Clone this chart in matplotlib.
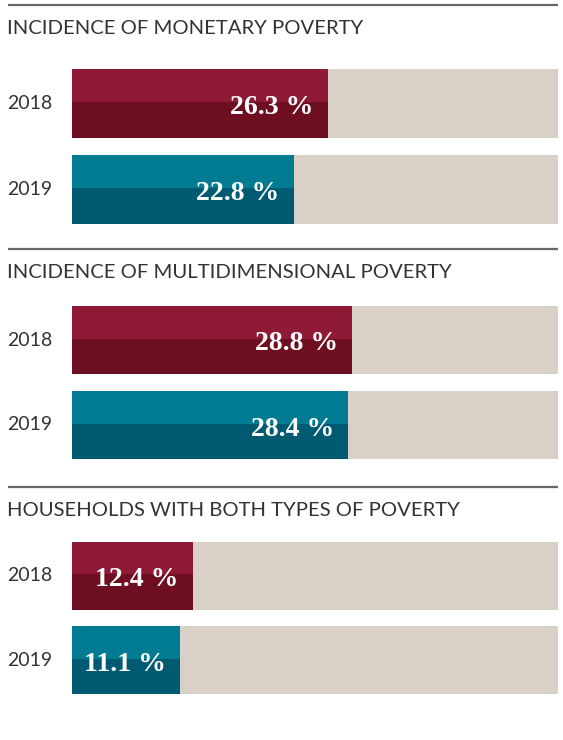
import matplotlib
matplotlib.use("Agg")
import matplotlib.pyplot as plt
from matplotlib.lines import Line2D
from matplotlib.transforms import blended_transform_factory

# Poverty indicators, share of households (%)
titles = [
    "INCIDENCE OF MONETARY POVERTY",
    "INCIDENCE OF MULTIDIMENSIONAL POVERTY",
    "HOUSEHOLDS WITH BOTH TYPES OF POVERTY",
]
years = ["2018", "2019"]
values_2018 = [26.3, 28.8, 12.4]
values_2019 = [22.8, 28.4, 11.1]
scale_max = 50

LIGHT = ["#8e1a37", "#007b91"]
DARK = ["#6d0f21", "#005a72"]
TRACK = "#d9d1c7"
RULE = "#666666"
INK = "#333333"

W, H = 563, 740
fig = plt.figure(figsize=(W / 100, H / 100), dpi=100)
fig.patch.set_facecolor("white")

sans = ["Lato", "DejaVu Sans"]
serif = ["Liberation Serif", "DejaVu Serif"]

# panel layout in pixels: rule line, first bar top, second bar bottom
rule_y = [5, 249, 487]
bar_top = [69, 306, 542]
bar_bottom = [224, 459, 694]
x0, x1 = 72, 558
bar_h = 0.8
split = 0.48


def fx(px):
    return px / W


def fy(px):
    return 1 - px / H


for i, title in enumerate(titles):
    fig.add_artist(Line2D([fx(8), fx(558)], [fy(rule_y[i])] * 2,
                          color=RULE, lw=1.6, solid_capstyle="butt"))
    fig.text(fx(7), fy(rule_y[i] + 23), title, family=sans, fontsize=14.6,
             color=INK, va="center", ha="left")

    ax = fig.add_axes([fx(x0), fy(bar_bottom[i]), fx(x1) - fx(x0),
                       (bar_bottom[i] - bar_top[i]) / H])
    vals = [values_2018[i], values_2019[i]]
    ypos = [0, 1]
    ax.barh(ypos, [scale_max] * 2, height=bar_h, color=TRACK, lw=0)
    label_tr = blended_transform_factory(fig.transFigure, ax.transData)
    for j, (y, v) in enumerate(zip(ypos, vals)):
        top = y - bar_h / 2
        ax.barh(top, v, height=bar_h * split, align="edge", color=LIGHT[j], lw=0)
        ax.barh(top + bar_h * split, v, height=bar_h * (1 - split), align="edge",
                color=DARK[j], lw=0)
        ax.annotate(f"{v:.1f} %", (v, y), xytext=(-14, -1), textcoords="offset pixels",
                    ha="right", va="center_baseline", color="white",
                    family=serif, fontsize=20, fontweight="bold")
        fig.text(fx(7), y, years[j], family=sans, fontsize=14, color=INK,
                 ha="left", va="center", transform=label_tr)
    ax.set_xlim(0, scale_max)
    ax.set_ylim(1 + bar_h / 2, -bar_h / 2)
    ax.axis("off")

fig.savefig("out.png", dpi=100)
